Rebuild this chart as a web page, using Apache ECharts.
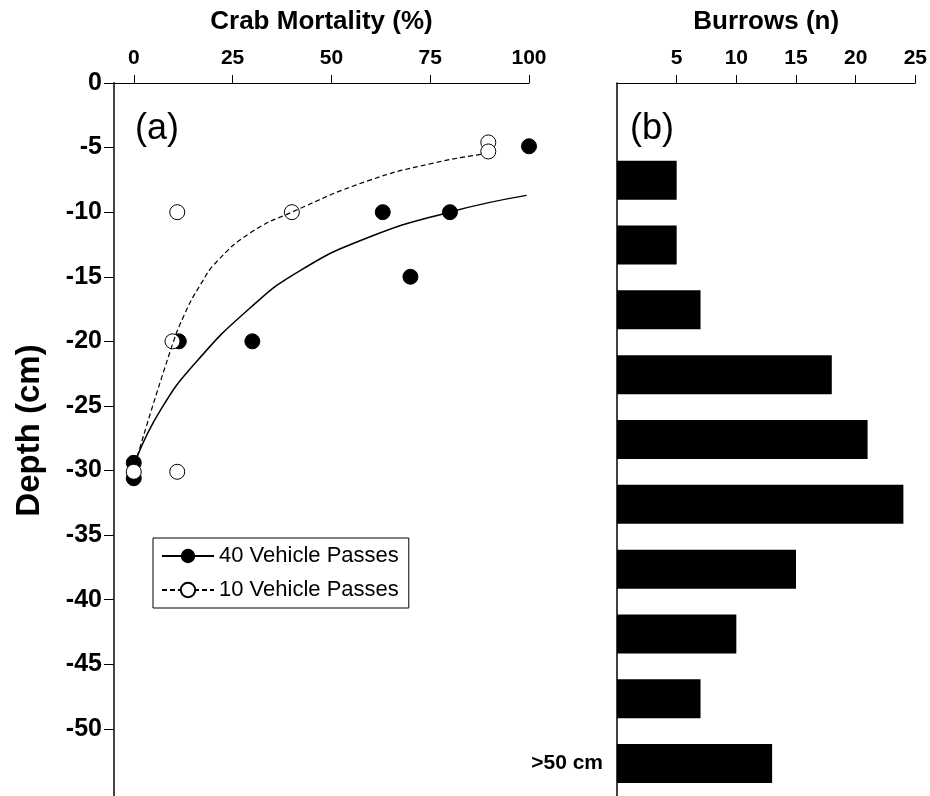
<!DOCTYPE html>
<html>
<head>
<meta charset="utf-8">
<script src="https://cdn.jsdelivr.net/npm/echarts@6/dist/echarts.min.js"></script>
<style>
  html, body { margin: 0; padding: 0; background: #fff; }
  #chart { width: 930px; height: 796px; }
</style>
</head>
<body>
<div id="chart"></div>
<script>
// panel (a): observed mortality points
const pts40X = [100, 63, 80, 70, 30, 11.4, 0, 0];
const pts40Y = [-4.9, -10, -10, -15, -20, -20, -29.4, -30.6];
const pts10X = [89.7, 89.7, 11, 40, 9.8, 0, 11];
const pts10Y = [-4.6, -5.3, -10, -10, -20, -30.1, -30.1];

// fitted curves
const fit40X = [0.9, 6.8, 15.5, 29.5, 42.2, 59, 79.8, 99.4];
const fit40Y = [-28.9, -25.3, -21.7, -17.4, -14.5, -12.0, -10.0, -8.7];
const fit10X = [0.9, 9.3, 12.7, 16.9, 21.1, 29.5, 40, 59, 75.8, 88.5];
const fit10Y = [-28.9, -20.7, -18.0, -15.6, -13.8, -11.6, -10, -7.6, -6.2, -5.5];

const mortTicks = [0, 25, 50, 75, 100];
const depthTicks = [0, -5, -10, -15, -20, -25, -30, -35, -40, -45, -50];

// panel (b): burrow counts per depth band
const depthBands = ['0-5', '5-10', '10-15', '15-20', '20-25', '25-30', '30-35', '35-40', '40-45', '45-50', '>50 cm'];
const burrows = [null, 5, 5, 7, 18, 21, 24, 15, 10, 7, 13];
const burrowTicks = [5, 10, 15, 20, 25];

const FONT = 'Arial, "Liberation Sans", sans-serif';

const chart = echarts.init(document.getElementById('chart'));

const toPairs = (xs, ys) => xs.map((x, i) => [x, ys[i]]);

chart.setOption({
    animation: false,
    textStyle: { fontFamily: FONT, color: '#000' },
    grid: [
        { left: 114, top: 83, width: 415, bottom: 0 },
        { left: 617, top: 83, right: 11, bottom: 0 }
    ],
    xAxis: [
        {
            gridIndex: 0,
            type: 'value',
            position: 'top',
            min: -5,
            max: 100,
            name: 'Crab Mortality (%)',
            nameLocation: 'middle',
            nameGap: 48,
            nameTextStyle: { fontSize: 26, fontWeight: 'bold', color: '#000', fontFamily: FONT },
            axisLine: { show: true, onZero: false, lineStyle: { color: '#000', width: 1 } },
            axisTick: { show: true, length: 8, customValues: mortTicks, lineStyle: { color: '#000' } },
            axisLabel: { customValues: mortTicks, fontSize: 21, fontWeight: 'bold', color: '#000', margin: 14 },
            splitLine: { show: false }
        },
        {
            gridIndex: 1,
            type: 'value',
            position: 'top',
            min: 0,
            max: 25,
            name: 'Burrows (n)',
            nameLocation: 'middle',
            nameGap: 48,
            nameTextStyle: { fontSize: 26, fontWeight: 'bold', color: '#000', fontFamily: FONT },
            axisLine: { show: true, onZero: false, lineStyle: { color: '#000', width: 1 } },
            axisTick: { show: true, length: 8, customValues: burrowTicks, lineStyle: { color: '#000' } },
            axisLabel: { customValues: burrowTicks, fontSize: 21, fontWeight: 'bold', color: '#000', margin: 14 },
            splitLine: { show: false }
        }
    ],
    yAxis: [
        {
            gridIndex: 0,
            type: 'value',
            min: -55.2,
            max: 0,
            name: 'Depth (cm)',
            nameLocation: 'middle',
            nameRotate: 90,
            nameGap: 68,
            nameTextStyle: { fontSize: 33, fontWeight: 'bold', color: '#000', fontFamily: FONT, padding: [0, 0, 0, 18] },
            axisLine: { show: true, onZero: false, lineStyle: { color: '#444', width: 2 } },
            axisTick: { show: true, length: 10, customValues: depthTicks, lineStyle: { color: '#000' } },
            axisLabel: { customValues: depthTicks, fontSize: 25, fontWeight: 'bold', color: '#000', margin: 12 },
            splitLine: { show: false }
        },
        {
            gridIndex: 1,
            type: 'category',
            inverse: true,
            data: depthBands,
            axisLine: { show: true, onZero: false, lineStyle: { color: '#000', width: 1.5 } },
            axisTick: { show: false },
            axisLabel: {
                interval: 0,
                fontSize: 21,
                fontWeight: 'bold',
                color: '#000',
                margin: 14,
                formatter: v => (v === '>50 cm' ? v : '')
            },
            splitLine: { show: false }
        }
    ],
    legend: {
        orient: 'vertical',
        left: 153,
        top: 538,
        width: 240,
        padding: [7, 10, 7, 8],
        itemGap: 12,
        itemWidth: 52,
        itemHeight: 18,
        borderColor: '#000',
        borderWidth: 1,
        textStyle: { fontSize: 22, color: '#000', fontFamily: FONT },
        data: ['40 Vehicle Passes', '10 Vehicle Passes']
    },
    graphic: [
        { type: 'text', left: 135, top: 111, style: { text: '(a)', fontSize: 36, fontFamily: FONT, fill: '#000' } },
        { type: 'text', left: 630, top: 111, style: { text: '(b)', fontSize: 36, fontFamily: FONT, fill: '#000' } }
    ],
    series: [
        {
            name: '40 Vehicle Passes',
            type: 'line',
            xAxisIndex: 0,
            yAxisIndex: 0,
            smooth: 0.5,
            showSymbol: false,
            symbol: 'circle',
            symbolSize: 15,
            itemStyle: { color: '#000' },
            lineStyle: { color: '#000', width: 1.5 },
            data: toPairs(fit40X, fit40Y)
        },
        {
            name: '10 Vehicle Passes',
            type: 'line',
            xAxisIndex: 0,
            yAxisIndex: 0,
            smooth: 0.5,
            showSymbol: false,
            symbol: 'circle',
            symbolSize: 15,
            itemStyle: { color: '#fff', borderColor: '#000', borderWidth: 1 },
            lineStyle: { color: '#000', width: 1.2, type: [5, 3] },
            data: toPairs(fit10X, fit10Y)
        },
        {
            name: '40 Vehicle Passes',
            type: 'scatter',
            xAxisIndex: 0,
            yAxisIndex: 0,
            symbol: 'circle',
            symbolSize: 15,
            itemStyle: { color: '#000', borderColor: '#000', borderWidth: 1, opacity: 1 },
            data: toPairs(pts40X, pts40Y)
        },
        {
            name: '10 Vehicle Passes',
            type: 'scatter',
            xAxisIndex: 0,
            yAxisIndex: 0,
            symbol: 'circle',
            symbolSize: 15,
            itemStyle: { color: '#fff', borderColor: '#000', borderWidth: 1, opacity: 1 },
            data: toPairs(pts10X, pts10Y)
        },
        {
            name: 'Burrows',
            type: 'bar',
            xAxisIndex: 1,
            yAxisIndex: 1,
            barWidth: 39,
            itemStyle: { color: '#000' },
            data: burrows
        }
    ]
});
</script>
</body>
</html>
